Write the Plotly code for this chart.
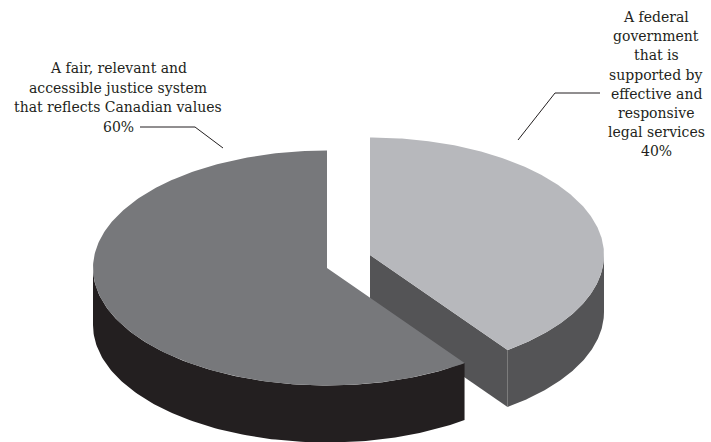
import numpy as np
import plotly.graph_objects as go

categories = [
    "A federal government that is supported by effective and responsive legal services",
    "A fair, relevant and accessible justice system that reflects Canadian values",
]
values = [40, 60]
value_labels = ["40%", "60%"]
label_lines = [
    ["A federal", "government", "that is", "supported by", "effective and",
     "responsive", "legal services", "40%"],
    ["A fair, relevant and", "accessible justice system",
     "that reflects Canadian values", "60%"],
]

top_colors = ["#b7b8bc", "#77787b"]
side_colors = ["#545456", "#231f20"]

W, H = 711, 442
RX, RY, DEPTH = 234, 117.5, 57
centers = [(370, 255), (327, 268)]  # exploded slice positions

fig = go.Figure()


def pt(c, th, dy=0):
    return c[0] + RX * np.sin(th), c[1] - RY * np.cos(th) + dy


total = float(sum(values))
starts = np.cumsum([0] + values[:-1]) / total * 2 * np.pi
ends = np.cumsum(values) / total * 2 * np.pi


def add_poly(xs, ys, color):
    fig.add_trace(go.Scatter(x=list(xs), y=list(ys), mode="lines", fill="toself",
                             fillcolor=color, line=dict(width=0, color=color),
                             hoverinfo="skip", showlegend=False))


for i in range(len(values)):
    c = centers[i]
    a, b = starts[i], ends[i]
    # radial face at the end angle (visible when facing viewer)
    if np.cos(b) < 0.5 and b < 2 * np.pi - 1e-6:
        ex, ey = pt(c, b)
        add_poly([c[0], ex, ex, c[0]], [c[1], ey, ey + DEPTH, c[1] + DEPTH], side_colors[i])
    # outer side (front half: pi/2 .. 3pi/2)
    lo, hi = max(a, np.pi / 2), min(b, 3 * np.pi / 2)
    if hi > lo:
        th = np.linspace(lo, hi, 120)
        x1, y1 = pt(c, th)
        x2, y2 = pt(c, th[::-1], DEPTH)
        add_poly(np.concatenate([x1, x2]), np.concatenate([y1, y2]), side_colors[i])
    # top face
    th = np.linspace(a, b, 240)
    x1, y1 = pt(c, th)
    add_poly(np.concatenate([[c[0]], x1, [c[0]]]), np.concatenate([[c[1]], y1, [c[1]]]),
             top_colors[i])

# leader lines
leaders = [
    [(518, 140), (555, 93), (600, 93)],
    [(223, 148), (195, 127), (140, 127)],
]
for ln in leaders:
    fig.add_trace(go.Scatter(x=[p[0] for p in ln], y=[p[1] for p in ln], mode="lines",
                             line=dict(color="#231f20", width=1), hoverinfo="skip",
                             showlegend=False))

label_pos = [(656, 17, 19.2), (118, 68, 19.5)]
font = dict(family="DejaVu Serif", size=14, color="#231f20")
for i, lines in enumerate(label_lines):
    x0, y0, dy = label_pos[i]
    for k, t in enumerate(lines):
        fig.add_annotation(x=x0, y=y0 + k * dy, text=t, showarrow=False,
                           xanchor="center", yanchor="middle", font=font)

fig.update_layout(
    width=W, height=H, margin=dict(l=0, r=0, t=0, b=0),
    paper_bgcolor="white", plot_bgcolor="white",
    xaxis=dict(range=[0, W], visible=False, fixedrange=True),
    yaxis=dict(range=[H, 0], visible=False, fixedrange=True),
)
fig.write_html("out.html")
